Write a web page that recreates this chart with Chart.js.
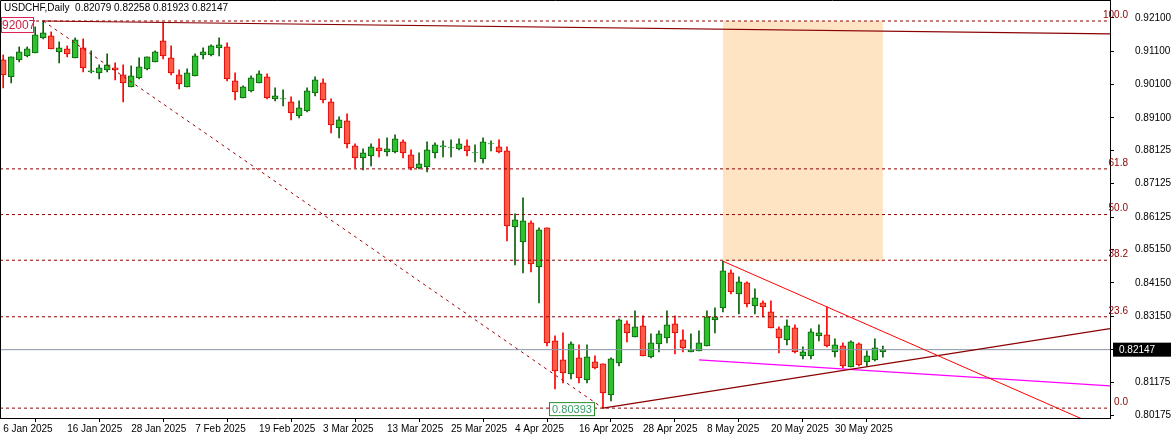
<!DOCTYPE html>
<html><head><meta charset="utf-8">
<script src="https://cdn.jsdelivr.net/npm/chart.js@4.4.1/dist/chart.umd.min.js"></script>
<style>html,body{margin:0;padding:0;background:#fff}#wrap{width:1175px;height:440px}</style>
</head><body><div id="wrap"><canvas id="c" width="1175" height="440"></canvas></div>
<script>
const opens=[.9084,.9033,.9084,.9096,.9105,.9150,.9156,.9108,.9117,.9090,.9120,.9048,.9045,.9054,.9060,.9039,.9003,.9030,.9057,.9078,.9141,.9090,.9039,.9003,.9036,.9099,.9099,.9120,.9123,.9021,.8970,.8991,.9015,.9033,.8967,.8967,.8958,.8916,.8931,.8985,.9015,.8958,.8880,.8901,.8826,.8790,.8796,.8820,.8808,.8808,.8838,.8799,.8760,.8763,.8805,.8823,.8820,.8817,.8826,.8805,.8787,.8832,.8823,.8811,.8583,.8538,.8595,.8463,.8580,.8241,.8184,.8142,.8190,.8124,.8178,.8172,.8079,.8175,.8292,.8253,.8286,.8193,.8232,.8250,.8292,.8244,.8208,.8211,.8226,.8304,.8340,.8445,.8382,.8415,.8346,.8355,.8328,.8277,.8244,.8280,.8196,.8196,.8256,.8259,.8208,.8226,.8163,.8232,.8178,.8184,.82079];
const highs=[.9099,.9093,.9123,.9123,.9183,.92007,.9168,.9138,.9126,.9150,.9147,.9111,.9069,.9102,.9075,.9069,.9066,.9090,.9093,.9111,.9195,.9126,.9054,.9057,.9102,.9120,.9129,.9150,.9135,.9045,.9006,.9036,.9051,.9042,.9000,.8994,.8973,.8961,.9000,.9033,.9027,.8967,.8913,.8922,.8832,.8817,.8832,.8847,.8850,.8859,.8844,.8814,.8805,.8838,.8835,.8841,.8844,.8847,.8844,.8829,.8850,.8841,.8844,.8823,.8622,.8670,.8601,.8580,.8580,.8256,.8265,.8238,.8229,.8229,.8196,.8172,.8190,.8307,.8301,.8331,.8316,.8262,.8271,.8331,.8316,.8274,.8262,.8271,.8331,.8340,.8480,.8454,.8433,.8418,.8397,.8361,.8361,.8283,.8304,.8289,.8223,.8277,.8289,.8343,.8247,.8235,.8241,.8235,.8211,.8247,.82258];
const lows=[.9000,.9015,.9078,.9093,.9105,.9147,.9117,.9075,.9093,.9090,.9048,.9045,.9027,.9048,.9024,.8958,.9003,.9027,.9054,.9078,.9087,.9039,.8997,.9003,.9036,.9087,.9096,.9096,.9021,.8964,.8970,.8988,.9015,.8967,.8961,.8946,.8904,.8910,.8928,.8976,.8955,.8865,.8850,.8820,.8760,.8754,.8766,.8793,.8796,.8805,.8790,.8754,.8757,.8748,.8790,.8793,.8793,.8814,.8796,.8778,.8775,.8811,.8805,.8541,.8469,.8445,.8448,.8355,.8226,.8097,.8115,.8127,.8115,.8115,.8157,.80393,.8061,.8166,.8238,.8253,.8196,.8190,.8208,.8235,.8202,.8208,.8208,.8211,.8226,.8265,.8328,.8382,.8322,.8343,.8322,.8313,.8280,.8205,.8229,.8205,.8187,.8187,.8241,.8223,.8193,.8160,.8163,.8166,.8166,.8181,.81923];
const closes=[.9039,.9093,.9108,.9117,.9159,.9165,.9117,.9120,.9102,.9144,.9060,.9051,.9060,.9069,.9054,.9015,.9036,.9063,.9093,.9108,.9096,.9045,.9012,.9045,.9096,.9108,.9126,.9129,.9027,.8988,.9003,.9030,.9042,.8970,.8976,.8968,.8925,.8940,.8991,.9024,.8964,.8889,.8904,.8832,.8790,.8805,.8823,.8811,.8817,.8847,.8805,.8760,.8772,.8814,.8829,.8826,.8821,.8832,.8811,.8806,.8838,.8833,.8808,.8586,.8604,.8601,.8472,.8574,.8235,.8151,.8145,.8232,.8130,.8193,.8160,.8085,.8187,.8304,.8265,.8283,.8196,.8235,.8262,.8289,.8265,.8220,.8214,.8235,.8313,.8313,.8451,.8388,.8418,.8352,.8370,.8343,.8280,.8250,.8286,.8208,.8208,.8268,.8265,.8226,.8229,.8166,.8238,.8169,.8196,.8220,.82147];
const dateLabels=['6 Jan 2025','16 Jan 2025','28 Jan 2025','7 Feb 2025','19 Feb 2025','3 Mar 2025','13 Mar 2025','25 Mar 2025','4 Apr 2025','16 Apr 2025','28 Apr 2025','8 May 2025','20 May 2025','30 May 2025'];
const priceTicks=[0.92100,0.91100,0.90100,0.89100,0.88125,0.87125,0.86125,0.85150,0.84150,0.83150,0.82150,0.81175,0.80175];
const fibLevels=[0.92007,0.87571,0.86200,0.84830,0.83134,0.80393];
const fibNames=['100.0','61.8','50.0','38.2','23.6','0.0'];
const lastPrice=0.82147;
const swingHigh={x:5,y:0.92007}, swingLow={x:75,y:0.80393};
const topLine=[{x:5,y:0.92007},{x:138.4,y:0.9162}];
const downTrend=[{x:90,y:0.8480},{x:103,y:0.8343},{x:138.4,y:0.7970}];
const upTrend=[{x:75,y:0.80393},{x:138.4,y:0.8278}];
const magentaLine=[{x:87,y:0.8184},{x:138.4,y:0.8106}];
const zoneBox={x1:90,x2:110,y1:0.92007,y2:0.8480};

const XMIN=-0.4,XMAX=138.4,YMIN=0.80097,YMAX=0.92637;
const up=closes.map((c,i)=>c>=opens[i]);
const bodies=opens.map((o,i)=>({x:i,y:[o,closes[i]]}));
const wicks=highs.map((h,i)=>({x:i,y:[lows[i],h]}));
const lineDs=(d,color,dash,w)=>({type:'line',data:d,borderColor:color,borderWidth:w||1,borderDash:dash||[],pointRadius:0,fill:false,tension:0});
const datasets=[
 lineDs(topLine,'#8b0000',[],1.2),
 lineDs(downTrend,'#ff0000',[],1),
 lineDs(upTrend,'#8b0000',[],1.2),
 lineDs(magentaLine,'#ff00ff',[],1.2),
 lineDs([swingHigh,swingLow],'#a00000',[3,4],1),
 ...fibLevels.map(v=>lineDs([{x:XMIN,y:v},{x:XMAX,y:v}],'#8b0000',[3,3],1)),
 lineDs([{x:XMIN,y:lastPrice},{x:XMAX,y:lastPrice}],'#8796a8',[],1),
 {type:'bar',data:bodies,grouped:false,barThickness:6,borderWidth:1,borderSkipped:false,
  backgroundColor:up.map(u=>u?'#2ec02e':'#ff5a45'),borderColor:up.map(u=>u?'#0a600a':'#e00000')},
 {type:'bar',data:wicks,grouped:false,barThickness:1,borderWidth:0,
  backgroundColor:up.map(u=>u?'#0a600a':'#ff0000')}
];
const deco={id:'deco',
 beforeDatasetsDraw(ch){const {ctx,scales:{x,y}}=ch;ctx.save();ctx.fillStyle='#ffe4c4';
  const a=x.getPixelForValue(zoneBox.x1),b=x.getPixelForValue(zoneBox.x2),t=y.getPixelForValue(zoneBox.y1),bt=y.getPixelForValue(zoneBox.y2);
  ctx.fillRect(a,t,b-a,bt-t);ctx.restore();},
 afterDraw(ch){const {ctx,scales:{x,y},chartArea:ca}=ch;ctx.save();
  ctx.strokeStyle='#000';ctx.lineWidth=1;ctx.beginPath();ctx.moveTo(ca.left+0.5,ca.bottom);ctx.lineTo(ca.left+0.5,ca.top+0.5);ctx.lineTo(ca.right,ca.top+0.5);ctx.stroke();
  ctx.font='10px "Liberation Sans", Arial';ctx.fillStyle='#8b0000';ctx.textAlign='right';ctx.textBaseline='bottom';
  fibLevels.forEach((v,i)=>ctx.fillText(fibNames[i],1128,y.getPixelForValue(v)-1));
  ctx.textAlign='left';ctx.textBaseline='top';ctx.fillStyle='#000';
  ctx.fillText('USDCHF,Daily  '+[opens[110],highs[110],lows[110],closes[110]].map(v=>v.toFixed(5)).join(' '),4,3);
  const hy=y.getPixelForValue(swingHigh.y);
  ctx.fillStyle='#fff';ctx.fillRect(1,hy-4,33,16);ctx.strokeStyle='#dd2255';ctx.strokeRect(1.5,hy-3.5,32,15);
  ctx.fillStyle='#cc2244';ctx.font='12px "Liberation Sans", Arial';ctx.textBaseline='middle';ctx.fillText('92007',2,hy+4.5);
  const lx=x.getPixelForValue(swingLow.x),ly=y.getPixelForValue(swingLow.y);
  ctx.fillStyle='#fff';ctx.fillRect(lx-54,ly-6,46,14);ctx.strokeStyle='#2a8a2a';ctx.strokeRect(lx-53.5,ly-5.5,45,13);
  ctx.fillStyle='#3a9a6a';ctx.font='11px "Liberation Sans", Arial';ctx.textAlign='center';ctx.fillText('0.80393',lx-31,ly+1.5);
  const py=y.getPixelForValue(lastPrice);ctx.fillStyle='#000';ctx.fillRect(ca.right+3,py-7,58,14);
  ctx.fillStyle='#fff';ctx.font='10px "Liberation Sans", Arial';ctx.textAlign='left';ctx.fillText(lastPrice.toFixed(5),ca.right+9,py+0.5);
  ctx.restore();}
};
new Chart(document.getElementById('c'),{
 type:'bar',data:{datasets},plugins:[deco],
 options:{responsive:false,animation:false,events:[],layout:{padding:0},
  plugins:{legend:{display:false},tooltip:{enabled:false}},
  scales:{
   x:{type:'linear',min:XMIN,max:XMAX,offset:false,
    afterBuildTicks(s){s.ticks=dateLabels.map((l,i)=>({value:i*8}));},
    afterFit(s){s.height=22;s.paddingLeft=0;s.paddingRight=0;},
    border:{color:'#000'},grid:{drawOnChartArea:false,color:'#000',tickLength:4},
    ticks:{autoSkip:false,maxRotation:0,align:'start',color:'#000',padding:1,font:{family:'"Liberation Sans", Arial',size:10},
     callback:(v)=>dateLabels[Math.round(v/8)]||''}},
   y:{type:'linear',position:'right',min:YMIN,max:YMAX,
    afterBuildTicks(s){s.ticks=priceTicks.map(v=>({value:v}));},
    afterFit(s){s.width=65;s.paddingTop=0;s.paddingBottom=0;},
    border:{color:'#000'},grid:{drawOnChartArea:false,color:'#000',tickLength:4},
    ticks:{color:'#000',padding:21,font:{family:'"Liberation Sans", Arial',size:10},callback:v=>v.toFixed(5)}}
  }}});
</script></body></html>
